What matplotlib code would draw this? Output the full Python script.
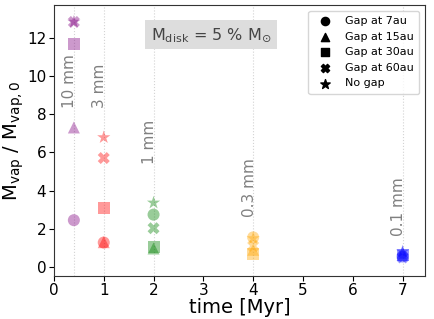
import matplotlib.pyplot as plt
import numpy as np

# time at which each grain size is plotted [Myr]
times = [0.4, 1, 2, 4, 7]
sizes = ["10 mm", "3 mm", "1 mm", "0.3 mm", "0.1 mm"]
colors = ["purple", "red", "green", "orange", "blue"]

# M_vap / M_vap,0 for each gap case, one value per grain size
gap_7au = [2.45, 1.28, 2.74, 1.55, 0.55]
gap_15au = [7.3, 1.30, 0.97, 0.90, 0.75]
gap_30au = [11.68, 3.07, 1.07, 0.70, 0.62]
gap_60au = [12.82, 5.70, 2.03, 1.10, 0.50]
no_gap = [12.82, 6.78, 3.36, 1.50, 0.80]

cases = [gap_7au, gap_15au, gap_30au, gap_60au, no_gap]
markers = ["o", "^", "s", "X", "*"]
labels = ["Gap at 7au", "Gap at 15au", "Gap at 30au", "Gap at 60au", "No gap"]

# y position of the rotated size labels
label_y = [8.3, 8.3, 5.4, 2.6, 1.6]

fig = plt.figure(figsize=(4.35, 3.19), dpi=100)
ax = fig.add_axes([0.124, 0.136, 0.853, 0.848])

for t in times:
    ax.axvline(t, color="lightgray", ls=":", lw=0.8, zorder=0)

for vals, m in zip(cases, markers):
    ax.scatter(times, vals, c=colors, marker=m, s=75 if m != "*" else 100,
               alpha=0.4, edgecolors="none")

for t, s, y in zip(times, sizes, label_y):
    ax.text(t - 0.08, y, s, rotation=90, ha="center", va="bottom",
            fontsize=11, color="gray")

# legend with black markers only
for m, lab in zip(markers, labels):
    ax.scatter([], [], c="k", marker=m, s=35 if m != "*" else 50, label=lab)
ax.legend(loc="upper right", fontsize=8, handletextpad=0.8, borderpad=0.5,
          labelspacing=0.5)

ax.text(3.15, 12.15, r"M$_{\rm disk}$ = 5 % M$_{\odot}$", ha="center", va="center",
        fontsize=11.5, color="#444444",
        bbox=dict(facecolor="#dddddd", edgecolor="none", pad=4))

ax.set_xlim(0, 7.45)
ax.set_ylim(-0.45, 13.7)
ax.set_xticks(range(8))
ax.set_yticks(range(0, 13, 2))
ax.tick_params(labelsize=11, pad=2)
for sp in ax.spines.values():
    sp.set_color("#333333")

ax.set_xlabel("time [Myr]", fontsize=14, labelpad=0)
ax.set_ylabel(r"M$_{\rm vap}$ / M$_{\rm vap, 0}$", fontsize=14, labelpad=1)

fig.savefig("out.png", dpi=100)
